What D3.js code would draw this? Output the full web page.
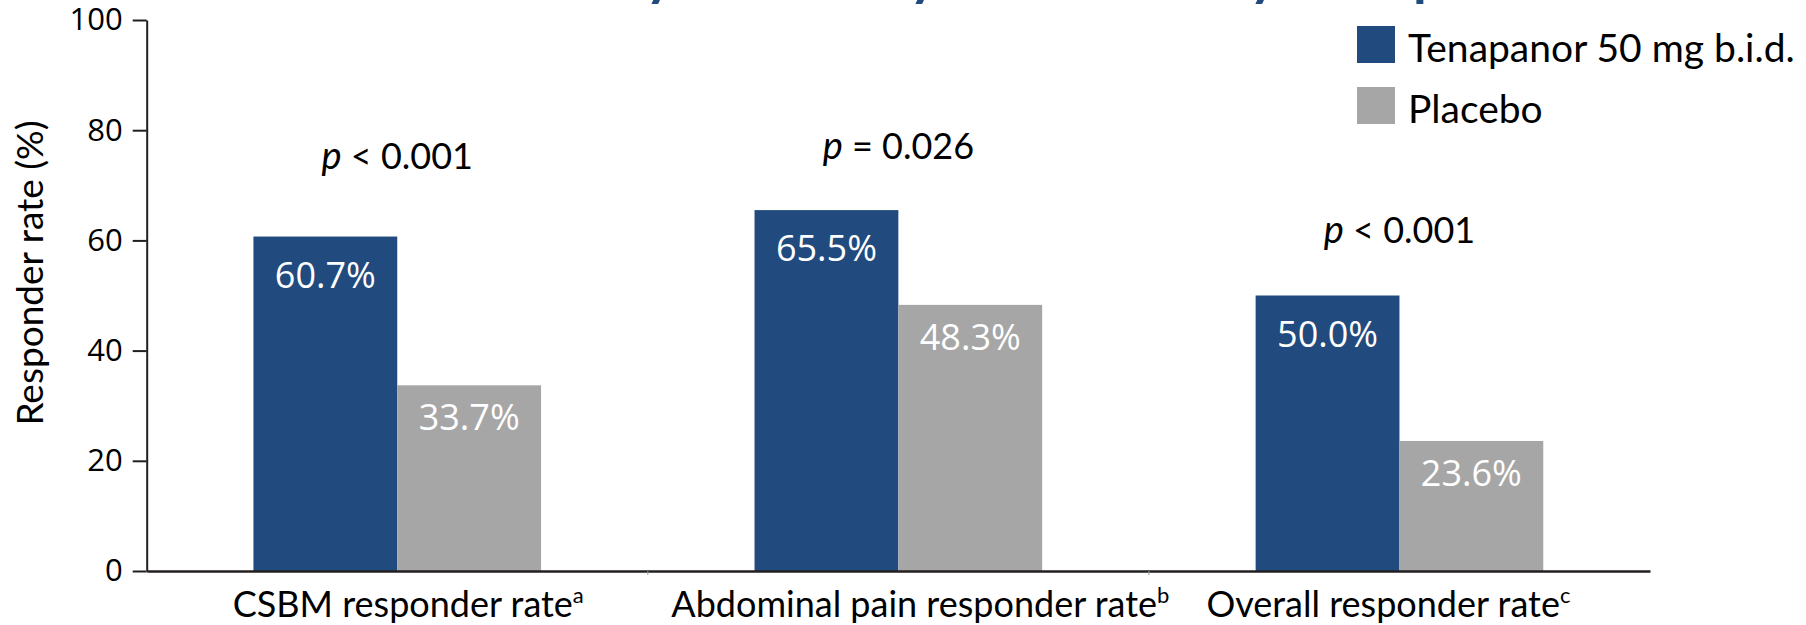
<!DOCTYPE html>
<html>
<head>
<meta charset="utf-8">
<script src="https://cdn.jsdelivr.net/npm/d3@7"></script>
<style>
  html, body { margin: 0; padding: 0; background: #ffffff; }
  svg { display: block; }
</style>
</head>
<body>
<svg id="chart" width="1806" height="625"></svg>
<script>
// ---- data ----
const categories = ["CSBM responder rate", "Abdominal pain responder rate", "Overall responder rate"];
const footnotes = ["a", "b", "c"];
const seriesNames = ["Tenapanor 50 mg b.i.d.", "Placebo"];
const tenapanor = [60.7, 65.5, 50.0];
const placebo = [33.7, 48.3, 23.6];
const pComparisons = ["< 0.001", "= 0.026", "< 0.001"];
const yTickValues = [0, 20, 40, 60, 80, 100];
const titleWords = ["Efficacy:", "Primary", "& Secondary", "Endpoints"];

// ---- layout ----
const W = 1806, H = 625;
const plotLeft = 146.7, plotRight = 1650, plotTop = 20, plotBottom = 571;
const colors = { "Tenapanor 50 mg b.i.d.": "#214a7e", "Placebo": "#a6a6a6" };
const labelDrop = { "Tenapanor 50 mg b.i.d.": 51, "Placebo": 45 };
const pLevel = [73, 74.8, 59.5];        // vertical placement of the p-value notes, in axis units
const catNudge = [11, 22, -11];         // horizontal nudge of each category label, px
// title word chunks: [character used as the anchor, x of that character]
const titleAnchors = [["y", 645], ["y", 909], ["y", 1249], ["p", 1413]];
const titleSize = 56;
const calibriLike = "Lato, 'Open Sans', sans-serif";
const segoeLike = "'Open Sans', 'Noto Sans', sans-serif";

const svg = d3.select("#chart");

const rows = categories.map((c, i) => ({
  category: c,
  note: footnotes[i],
  p: pComparisons[i],
  values: [
    { series: seriesNames[0], value: tenapanor[i] },
    { series: seriesNames[1], value: placebo[i] }
  ]
}));

const x0 = d3.scaleBand()
  .domain(categories)
  .range([plotLeft, plotRight])
  .paddingInner(0.426)
  .paddingOuter(0.213);

const x1 = d3.scaleBand()
  .domain(seriesNames)
  .range([0, x0.bandwidth()]);

const y = d3.scaleLinear().domain([0, 100]).range([plotBottom, plotTop]);

// slide title, mostly above the top edge; each word chunk placed on its own
const title = svg.append("text")
  .attr("y", -5)
  .attr("font-family", calibriLike)
  .attr("font-weight", 700)
  .attr("font-size", titleSize)
  .attr("fill", "#214a7e");
titleWords.forEach((w, i) => {
  const [ch, xAt] = titleAnchors[i];
  const probe = svg.append("text")
    .attr("font-family", calibriLike)
    .attr("font-weight", 700)
    .attr("font-size", titleSize)
    .text(w);
  const idx = w.indexOf(ch);
  const before = idx > 0 ? probe.node().getSubStringLength(0, idx) : 0;
  probe.remove();
  title.append("tspan").attr("x", xAt - before).attr("y", -5).text(w);
});

// bars
const groups = svg.append("g").selectAll("g")
  .data(rows)
  .join("g")
  .attr("transform", d => `translate(${x0(d.category)},0)`);

groups.selectAll("rect")
  .data(d => d.values)
  .join("rect")
  .attr("x", d => x1(d.series))
  .attr("y", d => y(d.value))
  .attr("width", x1.bandwidth())
  .attr("height", d => y(0) - y(d.value))
  .attr("fill", d => colors[d.series]);

// value labels inside bars
groups.selectAll("text.val")
  .data(d => d.values)
  .join("text")
  .attr("class", "val")
  .attr("x", d => x1(d.series) + x1.bandwidth() / 2)
  .attr("y", d => y(d.value) + labelDrop[d.series])
  .attr("text-anchor", "middle")
  .attr("font-family", segoeLike)
  .attr("font-size", 36)
  .attr("fill", "#ffffff")
  .text(d => d.value.toFixed(1) + "%");

// p-value notes
const pText = svg.append("g").selectAll("text")
  .data(rows)
  .join("text")
  .attr("x", d => x0(d.category) + x0.bandwidth() / 2)
  .attr("y", (d, i) => y(pLevel[i]))
  .attr("text-anchor", "middle")
  .attr("font-family", calibriLike)
  .attr("font-size", 36)
  .attr("fill", "#000000");
pText.append("tspan").attr("font-style", "italic").attr("font-size", 38).text("p");
pText.append("tspan").text(d => " " + d.p);

// y axis
const yAxis = svg.append("g")
  .attr("transform", `translate(${plotLeft},0)`)
  .call(d3.axisLeft(y).tickValues(yTickValues).tickSize(14).tickSizeOuter(0).tickPadding(10));
yAxis.select(".domain").attr("stroke", "#231f20").attr("stroke-width", 2);
yAxis.selectAll(".tick line").attr("stroke", "#231f20").attr("stroke-width", 2);
yAxis.selectAll(".tick text")
  .attr("font-family", segoeLike)
  .attr("font-size", 31)
  .attr("fill", "#000000");

// x axis
const xAxis = svg.append("g")
  .attr("transform", `translate(0,${plotBottom})`)
  .call(d3.axisBottom(x0).tickSize(0).tickSizeOuter(0).tickFormat(""));
xAxis.select(".domain").attr("stroke", "#231f20").attr("stroke-width", 2.5);

// small separators between categories
const step = x0.step();
svg.append("g").selectAll("line")
  .data(categories.slice(1))
  .join("line")
  .attr("x1", d => x0(d) - step * x0.paddingInner() / 2)
  .attr("x2", d => x0(d) - step * x0.paddingInner() / 2)
  .attr("y1", plotBottom)
  .attr("y2", plotBottom + 4)
  .attr("stroke", "#9a9a9a")
  .attr("stroke-width", 1);

// category labels with footnote markers
const catText = xAxis.selectAll(".tick")
  .data(rows)
  .append("text")
  .attr("x", (d, i) => catNudge[i])
  .attr("y", 46)
  .attr("dy", 0)
  .attr("text-anchor", "middle")
  .attr("font-family", calibriLike)
  .attr("font-size", 36)
  .attr("fill", "#000000");
catText.append("tspan").text(d => d.category);
catText.append("tspan")
  .attr("font-size", 22)
  .attr("dy", -14)
  .text(d => d.note);

// y axis title
svg.append("text")
  .attr("transform", `translate(43,273) rotate(-90)`)
  .attr("text-anchor", "middle")
  .attr("font-family", calibriLike)
  .attr("font-size", 37)
  .attr("fill", "#000000")
  .text("Responder rate (%)");

// legend
const legend = svg.append("g").selectAll("g")
  .data(seriesNames)
  .join("g")
  .attr("transform", (d, i) => `translate(1357,${26 + i * 61})`);
legend.append("rect")
  .attr("width", 38)
  .attr("height", 37)
  .attr("fill", d => colors[d]);
legend.append("text")
  .attr("x", 51)
  .attr("y", 36)
  .attr("font-family", calibriLike)
  .attr("font-size", 39)
  .attr("fill", "#000000")
  .text(d => d);
</script>
</body>
</html>
